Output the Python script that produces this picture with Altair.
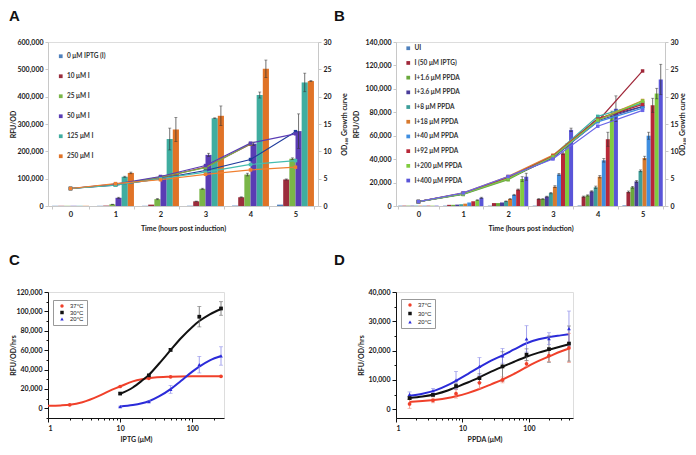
import altair as alt
import pandas as pd

FONT = "Lato"

# ---------------- Panel A data ----------------
times = ["0", "1", "2", "3", "4", "5"]
a_series = ["0 μM IPTG (I)", "10 μM I", "25 μM I", "50 μM I", "125 μM I", "250 μM I"]
a_bar_colors = ["#4f81bd", "#9b2d3c", "#7ab648", "#5a3cb4", "#3fada0", "#e07327"]
a_line_colors = ["#1f3b9c", "#a23a3f", "#7ab648", "#5a3cb4", "#45bdb0", "#f08030"]
a_rfu = [
    [800, 800, 800, 1000, 1500, 5000],
    [800, 1500, 5000, 17000, 32000, 97000],
    [800, 6000, 25000, 63000, 115000, 173000],
    [800, 30000, 108000, 187000, 228000, 274000],
    [800, 107000, 245000, 321000, 406000, 452000],
    [800, 121000, 280000, 330000, 502000, 457000],
]
a_err = [
    [0, 0, 0, 0, 0, 0],
    [0, 0, 0, 1000, 1500, 2000],
    [0, 500, 2000, 2000, 5000, 3000],
    [0, 2000, 3000, 6000, 6000, 63000],
    [0, 2000, 40000, 1500, 11000, 34000],
    [0, 3000, 44000, 36000, 32000, 2000],
]
a_od = [
    [3.2, 3.8, 5.0, 6.5, 8.5, 13.6],
    [3.2, 3.9, 5.2, 7.1, 11.3, None],
    [3.2, 3.9, 5.3, 7.0, 11.4, None],
    [3.2, 4.0, 5.4, 7.4, 11.5, 13.2],
    [3.2, 3.8, 5.0, 6.2, 7.6, 8.3],
    [3.2, 4.1, 4.8, 5.8, 6.6, 7.1],
]
a_left_ticks = [0, 100000, 200000, 300000, 400000, 500000, 600000]
od_ticks = [0, 5, 10, 15, 20, 25, 30]

# ---------------- Panel B data ----------------
b_series = ["UI", "I (50 μM IPTG)", "I+1.6 μM PPDA", "I+3.6 μM PPDA", "I+8 μM PPDA",
            "I+18 μM PPDA", "I+40 μM PPDA", "I+92 μM PPDA", "I+200 μM PPDA", "I+400 μM PPDA"]
b_bar_colors = ["#4f81bd", "#a0283a", "#6aa83c", "#4a3d9a", "#3d9e9a",
                "#d87a2e", "#3f8ee0", "#b82838", "#80cc40", "#5a55d8"]
b_line_colors = ["#1f2f6e", "#a0283a", "#6aa83c", "#4a3d9a", "#3db0a5",
                 "#e08030", "#3f8ee0", "#b82838", "#80cc40", "#6a66e8"]
b_rfu = [
    [300, 300, 300, 300, 400, 500],
    [300, 1000, 2500, 6000, 8000, 12000],
    [300, 1000, 2500, 6000, 9000, 16000],
    [300, 1200, 3000, 8000, 12500, 21000],
    [300, 1500, 4000, 11000, 16000, 30000],
    [300, 2000, 6000, 16500, 25000, 41000],
    [300, 3000, 9500, 27000, 39000, 60000],
    [300, 4000, 14000, 45000, 57000, 86000],
    [300, 5000, 23000, 52000, 77000, 96000],
    [300, 7000, 25000, 65000, 83000, 108000],
]
b_err = [
    [0, 0, 0, 0, 0, 0],
    [0, 0, 0, 300, 500, 800],
    [0, 0, 0, 300, 500, 800],
    [0, 0, 0, 400, 500, 800],
    [0, 0, 300, 600, 1000, 800],
    [0, 0, 400, 800, 1000, 1500],
    [0, 0, 500, 800, 1500, 3000],
    [0, 0, 500, 1000, 6000, 6000],
    [0, 300, 2000, 1500, 4000, 4500],
    [0, 500, 3000, 1500, 11000, 13000],
]
b_od = [
    [0.8, 2.3, 5.2, 9.0, 16.0, 18.2],
    [0.8, 2.2, 5.0, 8.9, 15.5, 24.7],
    [0.8, 2.1, 4.8, 9.1, 15.8, 18.9],
    [0.8, 2.2, 5.1, 8.8, 15.6, 18.2],
    [0.8, 2.3, 5.3, 9.2, 16.4, 18.8],
    [0.8, 2.4, 5.4, 9.3, 15.8, 19.3],
    [0.8, 2.2, 5.1, 9.0, 15.4, 17.9],
    [0.8, 2.3, 5.2, 9.1, 15.9, 18.6],
    [0.8, 2.2, 5.0, 9.0, 15.7, 19.2],
    [0.8, 2.4, 5.4, 8.6, 14.6, 17.5],
]
b_left_ticks = [0, 20000, 40000, 60000, 80000, 100000, 120000, 140000]

# ---------------- Panels C / D data ----------------
temps = ["37°C", "30°C", "20°C"]
temp_colors = ["#f0402a", "#111111", "#2b2bd9"]
temp_err_colors = ["#f08878", "#666666", "#8c8ce8"]
temp_shapes = ["circle", "square", "triangle-up"]

c_pt_x = [[2, 10, 25, 50, 250], [10, 25, 50, 125, 250], [10, 25, 50, 125, 250]]
c_pt_y = [[3650, 22500, 31000, 32500, 33000],
          [15200, 34000, 60300, 94500, 103000],
          [1700, 7000, 19500, 45000, 54000]]
c_pt_err = [[0, 0, 0, 0, 0],
            [800, 1000, 1500, 10500, 7000],
            [500, 800, 4000, 8500, 9500]]
c_cv_x = [[1, 1.5, 2, 3, 5, 7, 10, 15, 20, 30, 50, 100, 250],
          [10, 15, 20, 25, 35, 50, 70, 100, 125, 175, 250],
          [10, 15, 20, 25, 35, 50, 70, 100, 125, 175, 250]]
c_cv_y = [[2600, 3000, 3700, 6300, 12500, 17800, 22500, 27800, 30000, 31800, 32600, 33000, 33100],
          [15000, 21500, 28500, 34500, 46500, 60000, 72500, 84000, 90000, 97000, 102500],
          [1800, 3300, 5200, 7300, 12500, 19800, 28500, 37800, 43000, 49500, 54000]]
c_y_ticks = [0, 20000, 40000, 60000, 80000, 100000, 120000]
c_y_minor = [-10000, 10000, 30000, 50000, 70000, 90000, 110000]
c_x_minor = [2, 3, 4, 5, 6, 7, 8, 9, 20, 30, 40, 50, 60, 70, 80, 90, 200]

d_pt_x = [1.6, 3.6, 8, 18, 40, 92, 200, 400]
d_pt_y = [[1800, 3000, 5300, 9000, 10000, 15500, 18300, 20900],
          [3800, 4900, 7900, 10600, 14600, 18600, 20500, 22400],
          [5100, 6300, 9900, 14600, 18200, 24000, 24100, 27500]]
d_pt_err = [[1500, 800, 1500, 2000, 1000, 1000, 2000, 5000],
            [500, 500, 1000, 1500, 5000, 2000, 4500, 6000],
            [800, 800, 3000, 3000, 2500, 4500, 2000, 6000]]
d_cv_x = [1.6, 2.5, 4, 6, 8, 12, 18, 27, 40, 60, 92, 140, 200, 300, 400]
d_cv_y = [[2500, 2800, 3200, 3800, 4400, 5500, 6900, 8500, 10100, 12100, 14400, 16500, 18000, 19700, 20700],
          [3800, 4300, 5200, 6400, 7500, 9100, 10900, 12800, 14500, 16200, 17900, 19300, 20300, 21400, 22200],
          [4600, 5300, 6500, 8200, 9700, 12000, 14400, 16600, 18400, 20400, 22500, 23900, 24600, 25200, 25600]]
d_y_ticks = [0, 10000, 20000, 30000, 40000]
d_y_minor = [5000, 15000, 25000, 35000]
d_x_minor = [2, 3, 4, 5, 6, 7, 8, 9, 20, 30, 40, 50, 60, 70, 80, 90, 200, 300, 400]
log_ticks = [1, 10, 100]

# ---------------- sizes ----------------
WA, WB, HT = 270, 269, 164
WC, WD, HB = 176, 177, 126


def bar_frames(series, rfu, err, od, key):
    rows, lines = [], []
    for si, s in enumerate(series):
        for ti, t in enumerate(times):
            v, e = rfu[si][ti], err[si][ti]
            rows.append({"time": t, key: s, "rfu": v, "err": e, "lo": v - e, "hi": v + e})
            if od[si][ti] is not None:
                lines.append({"time": t, key: s, "od": od[si][ti]})
    return pd.DataFrame(rows), pd.DataFrame(lines)


def letter(ch, x, y):
    return alt.Chart(pd.DataFrame({"t": [ch]})).mark_text(
        font="Liberation Sans", fontSize=15, fontWeight="bold", align="left",
        baseline="top", color="#111").encode(x=alt.value(x), y=alt.value(y), text="t:N")


def lab(**kw):
    base = dict(grid=False, labelFont=FONT, labelFontWeight="bold", labelColor="#1a1a1a",
                titleFont=FONT, titleFontWeight="bold", titleColor="#1a1a1a",
                labelOverlap=False)
    base.update(kw)
    return alt.Axis(**base)


def time_panel(key, series, bar_colors, line_colors, rfu, err, od, left_ticks, ymax,
               width, pad_inner, legend, letter_ch, letter_x, left_title_x, right_title_x):
    df, ldf = bar_frames(series, rfu, err, od, key)
    x = alt.X("time:N", scale=alt.Scale(domain=times, paddingInner=pad_inner,
                                         paddingOuter=pad_inner / 2),
              axis=lab(title="Time (hours post induction)", labelAngle=0, tickBand="extent",
                       domainColor="#c8c8c8", tickColor="#c8c8c8", tickSize=3, labelPadding=1,
                       labelFontSize=7.5, titleFontSize=7, titleX=width / 2, titleY=18))
    xo = alt.XOffset(f"{key}:N", scale=alt.Scale(domain=series, paddingInner=0, paddingOuter=0))
    yscale = alt.Scale(domain=[0, ymax], nice=False)
    yaxis = lab(values=left_ticks, format=",d", title="RFU/OD", domainColor="#c8c8c8",
                tickColor="#c8c8c8", tickSize=3, labelPadding=2, labelFontSize=7,
                titleFontSize=7, titleX=left_title_x, titleY=HT / 2, titleAngle=270,
                titleAlign="center", titleBaseline="middle")

    def yl(f):
        return alt.Y(f"{f}:Q", scale=yscale, axis=yaxis)

    bars = alt.Chart(df).mark_bar().encode(
        x=x, xOffset=xo, y=yl("rfu"),
        color=alt.Color(f"{key}:N", scale=alt.Scale(domain=series, range=bar_colors),
                        legend=legend))
    edf = alt.Chart(df).transform_filter("datum.err > 0")
    rule = edf.mark_rule(color="#333", strokeWidth=0.7).encode(
        x=x, xOffset=xo, y=yl("lo"), y2="hi:Q")
    cap_hi = edf.mark_tick(color="#333", thickness=0.7, size=3).encode(x=x, xOffset=xo, y=yl("hi"))
    cap_lo = edf.mark_tick(color="#333", thickness=0.7, size=3).encode(x=x, xOffset=xo, y=yl("lo"))
    lines = alt.Chart(ldf).mark_line(
        strokeWidth=1.2, point=alt.OverlayMarkDef(filled=True, size=12, shape="square")).encode(
        x=x,
        y=alt.Y("od:Q", scale=alt.Scale(domain=[0, 30], nice=False),
                axis=lab(orient="right", values=od_ticks, title="OD₆₀₀ Growth curve",
                         domainColor="#c8c8c8", tickColor="#c8c8c8", tickSize=3,
                         labelPadding=2, labelFontSize=7, titleFontSize=7,
                         titleX=right_title_x, titleY=HT / 2, titleAngle=270,
                         titleAlign="center", titleBaseline="middle")),
        color=alt.Color(f"{key}:N", scale=alt.Scale(domain=series, range=line_colors),
                        legend=None),
        detail=f"{key}:N")
    inner = alt.layer(bars, rule, cap_hi, cap_lo)
    return alt.layer(inner, lines, letter(letter_ch, letter_x, -33)).resolve_scale(
        y="independent", color="independent").properties(width=width, height=HT)


def bar_legend(ly, row_pad):
    return alt.Legend(orient="none", legendX=9.5 if row_pad > 10 else 9, legendY=ly, title=None,
                      symbolType="square", symbolSize=14, symbolStrokeWidth=0,
                      labelFontSize=6.5, labelFont=FONT, labelFontWeight="bold",
                      labelColor="#333", rowPadding=row_pad, labelOffset=3, padding=0)


panelA = time_panel("seriesA", a_series, a_bar_colors, a_line_colors, a_rfu, a_err, a_od,
                    a_left_ticks, 600000, WA, 0.18, bar_legend(11, 13), "A", -39, -35, 26)
panelB = time_panel("seriesB", b_series, b_bar_colors, b_line_colors, b_rfu, b_err, b_od,
                    b_left_ticks, 140000, WB, 0.1, bar_legend(3, 7.7), "B", -62, -40, 17)


def dose_panel(key, pt_x, pt_y, pt_err, cv_x, cv_y, xmax, ymin, ymax, yticks, y_minor, x_minor,
               xtitle, width, letter_ch, letter_x, leg):
    prow, crow = [], []
    for ti, t in enumerate(temps):
        px = pt_x[ti] if isinstance(pt_x[0], list) else pt_x
        for i, xv in enumerate(px):
            v, e = pt_y[ti][i], pt_err[ti][i]
            prow.append({key: t, "x": xv, "y": v, "err": e, "lo": v - e, "hi": v + e})
        cx = cv_x[ti] if isinstance(cv_x[0], list) else cv_x
        for i, xv in enumerate(cx):
            crow.append({key: t, "x": xv, "y": cv_y[ti][i]})
    pdf, cdf = pd.DataFrame(prow), pd.DataFrame(crow)
    xscale = alt.Scale(type="log", domain=[1, xmax], nice=False)
    x = alt.X("x:Q", scale=xscale,
              axis=lab(values=log_ticks, format="d", title=xtitle, domainColor="#111",
                       tickColor="#111", tickSize=4, labelPadding=2, labelFontSize=7,
                       titleFontSize=7, titleX=width / 2, titleY=17))
    yscale = alt.Scale(domain=[ymin, ymax], nice=False, zero=False)
    yaxis = lab(values=yticks, format=",d", title="RFU/OD/hrs", domainColor="#111",
                tickColor="#111", tickSize=4, labelPadding=2, labelFontSize=7,
                titleFontSize=7, titleX=-35, titleY=HB / 2, titleAngle=270,
                titleAlign="center", titleBaseline="middle")

    def yf(f):
        return alt.Y(f"{f}:Q", scale=yscale, axis=yaxis)

    cscale = alt.Scale(domain=temps, range=temp_colors)
    escale = alt.Scale(domain=temps, range=temp_err_colors)
    curves = alt.Chart(cdf).mark_line(strokeWidth=2, interpolate="monotone").encode(
        x=x, y=yf("y"), color=alt.Color(f"{key}:N", scale=cscale, legend=None),
        detail=f"{key}:N")
    edf = alt.Chart(pdf).transform_filter("datum.err > 0")
    rule = edf.mark_rule(strokeWidth=0.8).encode(
        x=x, y=yf("lo"), y2="hi:Q",
        color=alt.Color(f"{key}:N", scale=escale, legend=None))
    cap_hi = edf.mark_tick(thickness=0.8, size=4, orient="horizontal").encode(
        x=x, y=yf("hi"), color=alt.Color(f"{key}:N", scale=escale, legend=None))
    cap_lo = edf.mark_tick(thickness=0.8, size=4, orient="horizontal").encode(
        x=x, y=yf("lo"), color=alt.Color(f"{key}:N", scale=escale, legend=None))
    pts = alt.Chart(pdf).mark_point(filled=True, size=14, opacity=1).encode(
        x=x, y=yf("y"),
        color=alt.Color(f"{key}:N", scale=cscale, legend=leg),
        shape=alt.Shape(f"{key}:N", scale=alt.Scale(domain=temps, range=temp_shapes), legend=leg))
    inner = alt.layer(curves, rule, cap_hi, cap_lo, pts).resolve_scale(
        color="independent", shape="independent")
    # invisible layer carrying the minor-tick axes
    minor = alt.Chart(pdf).mark_point(opacity=0).encode(
        x=alt.X("x:Q", scale=xscale,
                axis=alt.Axis(orient="bottom", values=x_minor, labels=False, domain=False,
                              tickSize=2, tickColor="#111", title=None, grid=False)),
        y=alt.Y("y:Q", scale=yscale,
                axis=alt.Axis(orient="left", values=y_minor, labels=False, domain=False,
                              tickSize=2, tickColor="#111", title=None, grid=False)))
    return alt.layer(inner, minor, letter(letter_ch, letter_x, -39)).resolve_scale(
        x="independent", y="independent").properties(width=width, height=HB)


def dose_legend(ly, row_pad):
    return alt.Legend(orient="none", legendX=5, legendY=ly, title=None, symbolSize=12,
                      labelFontSize=6, labelFont="Liberation Sans", labelColor="#222",
                      rowPadding=row_pad, labelOffset=5, symbolOffset=3, padding=3,
                      strokeColor="#999", fillColor="#ffffff")


panelC = dose_panel("tempC", c_pt_x, c_pt_y, c_pt_err, c_cv_x, c_cv_y, 275, -10000, 120000,
                    c_y_ticks, c_y_minor, c_x_minor, "IPTG (μM)", WC, "C", -39,
                    dose_legend(8, 0.5))
panelD = dose_panel("tempD", d_pt_x, d_pt_y, d_pt_err, d_cv_x, d_cv_y, 460, -3000, 40000,
                    d_y_ticks, d_y_minor, d_x_minor, "PPDA (μM)", WD, "D", -62,
                    dose_legend(7, 2.5))

chart = alt.concat(panelA, panelB, panelC, panelD, columns=2,
                   spacing={"row": 86, "column": 78}, bounds="flush").resolve_scale(
    color="independent", shape="independent", xOffset="independent").properties(
    padding=0).configure_view(stroke=None).configure(font=FONT).configure_axis(
    labelOverlap=False)

chart.save("out.html", embed_options={"renderer": "svg", "actions": False})
